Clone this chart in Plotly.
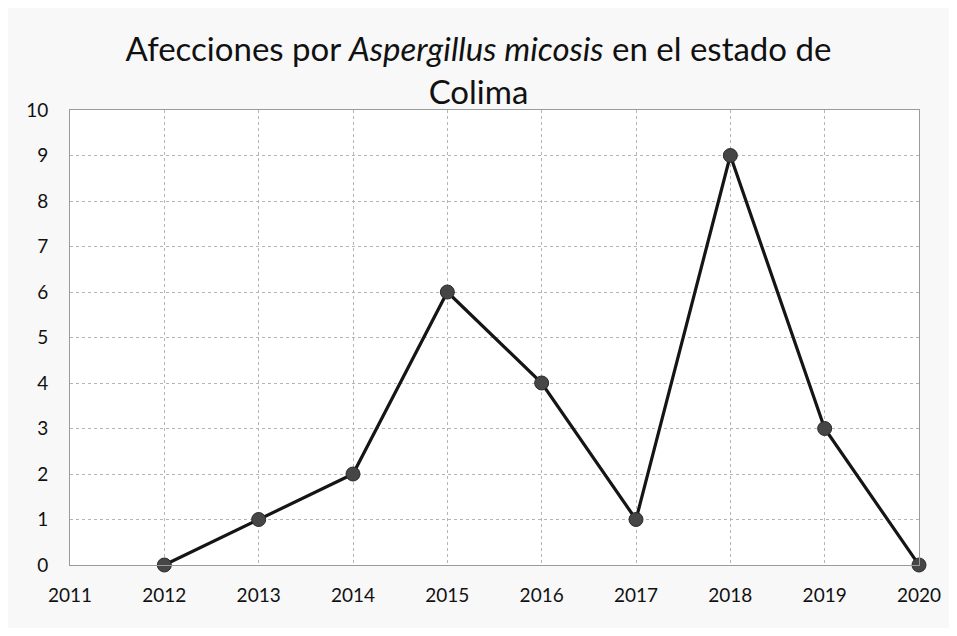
import plotly.graph_objects as go

years = [2012, 2013, 2014, 2015, 2016, 2017, 2018, 2019, 2020]
cases = [0, 1, 2, 6, 4, 1, 9, 3, 0]
x_ticks = [2011, 2012, 2013, 2014, 2015, 2016, 2017, 2018, 2019, 2020]
y_ticks = list(range(0, 11))

fig = go.Figure()
fig.add_trace(go.Scatter(
    x=years, y=cases, mode="lines+markers",
    line=dict(color="#151515", width=3.2),
    marker=dict(color="#464646", size=14, line=dict(color="#2a2a2a", width=1)),
    cliponaxis=False,
))

fig.update_layout(
    width=941, height=620,
    margin=dict(l=62, r=30, t=102, b=63, autoexpand=False),
    paper_bgcolor="#f8f8f8",
    plot_bgcolor="#ffffff",
    title=dict(
        text="Afecciones por <i>Aspergillus micosis</i> en el estado de<br>Colima",
        x=0.5, xanchor="center", y=0.915, yanchor="middle",
        font=dict(family="Lato", size=33, color="#111111"),
    ),
    font=dict(family="Lato", size=19, color="#111111"),
    showlegend=False,
)
fig.update_xaxes(
    range=[2011, 2020], tickvals=x_ticks, ticktext=[str(t) for t in x_ticks],
    showgrid=True, gridcolor="#b5b5b5", griddash="dot", gridwidth=1,
    showline=True, linecolor="#9a9a9a", linewidth=1, mirror=True,
    zeroline=False, ticks="outside", ticklen=13, tickcolor="rgba(0,0,0,0)",
    tickfont=dict(size=19), automargin=False, ticklabeloverflow="allow",
)
fig.update_yaxes(
    range=[0, 10], tickvals=y_ticks,
    showgrid=True, gridcolor="#b5b5b5", griddash="dot", gridwidth=1,
    showline=True, linecolor="#9a9a9a", linewidth=1, mirror=True,
    zeroline=False, ticks="outside", ticklen=17, tickcolor="rgba(0,0,0,0)",
    tickfont=dict(size=19), automargin=False, ticklabeloverflow="allow",
)

fig.write_html("out.html")
